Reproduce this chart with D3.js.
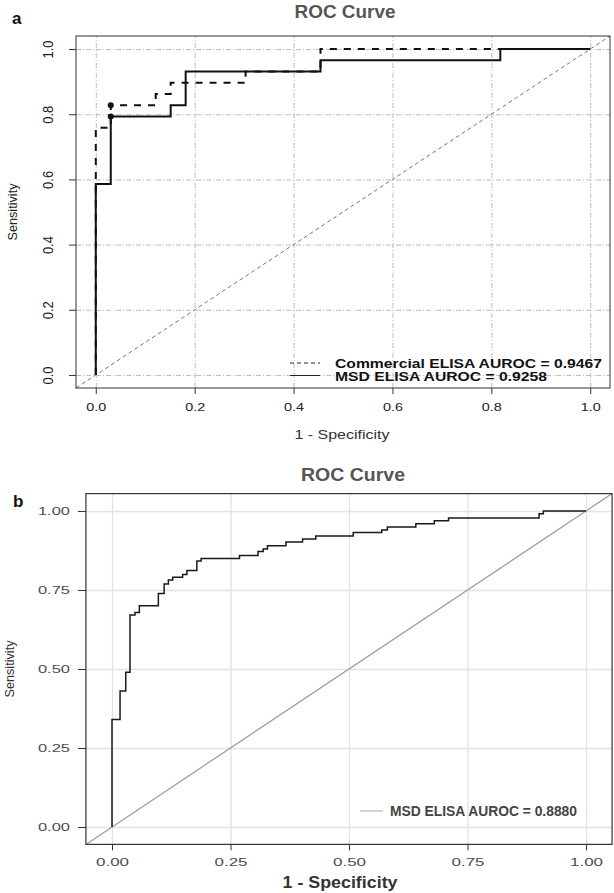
<!DOCTYPE html>
<html><head><meta charset="utf-8">
<script src="https://cdn.jsdelivr.net/npm/d3@7"></script>
<style>body{margin:0;background:#fff}svg{display:block}</style>
</head><body>
<script>
// ---------- Panel a data ----------
const ticksA = [0, 0.2, 0.4, 0.6, 0.8, 1.0];
const tickLabelsA = ["0.0", "0.2", "0.4", "0.6", "0.8", "1.0"];
const commercialFPR = [0, 0, 0.0303, 0.1212, 0.1515, 0.3030, 0.4545, 1.0];
const commercialTPR = [0, 0.7586, 0.8276, 0.8621, 0.8966, 0.9310, 1.0, 1.0];
const msdFPR_a = [0, 0, 0.0303, 0.1515, 0.1818, 0.4545, 0.8182, 1.0];
const msdTPR_a = [0, 0.5862, 0.7931, 0.8276, 0.9310, 0.9655, 1.0, 1.0];
const bestFPR_a = [0.0303, 0.0303];
const bestTPR_a = [0.8276, 0.7931];
const legendA = ["Commercial ELISA AUROC = 0.9467", "MSD ELISA AUROC = 0.9258"];

// ---------- Panel b data ----------
const ticksB = [0, 0.25, 0.5, 0.75, 1.0];
const tickLabelsB = ["0.00", "0.25", "0.50", "0.75", "1.00"];
const msdFPR_b = [0, 0, 0.017, 0.029, 0.038, 0.0485, 0.0577, 0.0978, 0.110, 0.119,
  0.128, 0.149, 0.158, 0.179, 0.188, 0.269, 0.308, 0.319, 0.328, 0.367,
  0.402, 0.430, 0.509, 0.569, 0.581, 0.641, 0.680, 0.710, 0.901, 0.910, 1.0];
const msdTPR_b = [0, 0.34, 0.43, 0.49, 0.671, 0.679, 0.700, 0.739, 0.769, 0.782,
  0.790, 0.799, 0.812, 0.842, 0.850, 0.859, 0.872, 0.880, 0.890, 0.902,
  0.911, 0.921, 0.932, 0.940, 0.949, 0.960, 0.969, 0.978, 0.991, 1.0, 1.0];
const legendB = "MSD ELISA AUROC = 0.8880";

const W = 614, H = 893;
const FONT = "'Liberation Sans', Arial, sans-serif";
const svg = d3.select("body").append("svg").attr("width", W).attr("height", H)
  .style("font-family", FONT);
svg.append("rect").attr("width", W).attr("height", H).attr("fill", "#fff");

function txt(x, y, s, o = {}) {
  const t = svg.append("text").attr("x", x).attr("y", y).text(s)
    .attr("font-size", o.size || 12)
    .attr("font-weight", o.weight || "normal")
    .attr("fill", o.fill || "#222")
    .attr("text-anchor", o.anchor || "start");
  if (o.len) t.attr("textLength", o.len).attr("lengthAdjust", "spacingAndGlyphs");
  if (o.rotate) t.attr("transform", `rotate(${o.rotate},${x},${y})`);
  return t;
}
const zip = (a, b) => a.map((v, i) => [v, b[i]]);

// ================= Panel a =================
const xA = d3.scaleLinear().domain([-0.04, 1.04]).range([76, 610]);
const yA = d3.scaleLinear().domain([-0.04, 1.04]).range([388, 36]);
const gA = svg.append("g");

// grid
gA.append("g").attr("transform", `translate(0,${yA(-0.04)})`)
  .call(d3.axisBottom(xA).tickValues(ticksA).tickSize(-(yA(-0.04) - yA(1.04))).tickFormat(""))
  .call(g => g.select(".domain").remove())
  .selectAll("line").attr("stroke", "#b5b5b5").attr("stroke-width", 0.9).attr("stroke-dasharray", "5,2,1,2");
gA.append("g").attr("transform", `translate(${xA(-0.04)},0)`)
  .call(d3.axisLeft(yA).tickValues(ticksA).tickSize(-(xA(1.04) - xA(-0.04))).tickFormat(""))
  .call(g => g.select(".domain").remove())
  .selectAll("line").attr("stroke", "#b5b5b5").attr("stroke-width", 0.9).attr("stroke-dasharray", "5,2,1,2");

// diagonal
gA.append("line").attr("x1", xA(-0.04)).attr("y1", yA(-0.04)).attr("x2", xA(1.04)).attr("y2", yA(1.04))
  .attr("stroke", "#666").attr("stroke-width", 0.9).attr("stroke-dasharray", "4,3");

// axes
const axA = gA.append("g").attr("transform", `translate(0,${yA(-0.04)})`)
  .call(d3.axisBottom(xA).tickValues(ticksA).tickSize(6).tickPadding(9).tickFormat((d, i) => tickLabelsA[i]));
axA.select(".domain").remove();
axA.selectAll("line").attr("stroke", "#333");
axA.selectAll("text").attr("font-size", 11.5).attr("fill", "#222").attr("font-family", FONT)
  .attr("textLength", 20).attr("lengthAdjust", "spacingAndGlyphs").attr("dy", "0.71em");
const ayA = gA.append("g").attr("transform", `translate(${xA(-0.04)},0)`)
  .call(d3.axisLeft(yA).tickValues(ticksA).tickSize(7).tickFormat((d, i) => tickLabelsA[i]));
ayA.select(".domain").remove();
ayA.selectAll("line").attr("stroke", "#333");
ayA.selectAll("text").attr("x", null).attr("dy", null)
  .attr("transform", "translate(-23,0) rotate(-90)").attr("text-anchor", "middle")
  .attr("font-size", 14.5).attr("fill", "#222").attr("font-family", FONT)
  .attr("textLength", 18).attr("lengthAdjust", "spacingAndGlyphs");

// frame
gA.append("rect").attr("x", xA(-0.04)).attr("y", yA(1.04))
  .attr("width", xA(1.04) - xA(-0.04)).attr("height", yA(-0.04) - yA(1.04))
  .attr("fill", "none").attr("stroke", "#333").attr("stroke-width", 1);

// curves
const lineA = d3.line().x(d => xA(d[0])).y(d => yA(d[1])).curve(d3.curveStepAfter);
gA.append("path").attr("d", lineA(zip(msdFPR_a, msdTPR_a)))
  .attr("fill", "none").attr("stroke", "#111").attr("stroke-width", 2);
gA.append("path").attr("d", lineA(zip(commercialFPR, commercialTPR)))
  .attr("fill", "none").attr("stroke", "#111").attr("stroke-width", 2).attr("stroke-dasharray", "7,7");
gA.selectAll("circle.best").data(zip(bestFPR_a, bestTPR_a)).enter().append("circle")
  .attr("cx", d => xA(d[0])).attr("cy", d => yA(d[1])).attr("r", 3).attr("fill", "#111");

// legend a
gA.append("line").attr("x1", 290).attr("x2", 320).attr("y1", 363).attr("y2", 363)
  .attr("stroke", "#222").attr("stroke-width", 1).attr("stroke-dasharray", "4,3");
gA.append("line").attr("x1", 290).attr("x2", 320).attr("y1", 375.5).attr("y2", 375.5)
  .attr("stroke", "#222").attr("stroke-width", 1);
txt(335, 367.5, legendA[0], { size: 12.5, weight: "bold", fill: "#111", len: 267 });
txt(335, 380.7, legendA[1], { size: 12.5, weight: "bold", fill: "#111", len: 212 });

// texts a
txt(12, 24, "a", { size: 17, weight: "bold", fill: "#111" });
txt(345, 18, "ROC Curve", { size: 19, weight: "bold", fill: "#555", anchor: "middle", len: 101 });
txt(342, 439, "1 - Specificity", { size: 13, fill: "#333", anchor: "middle", len: 95 });
txt(17, 212, "Sensitivity", { size: 12.5, fill: "#222", anchor: "middle", rotate: -90, len: 57 });

// ================= Panel b =================
const xB = d3.scaleLinear().domain([0, 1]).range([112, 586]);
const yB = d3.scaleLinear().domain([0, 1]).range([827, 511]);
const gB = svg.append("g");
const bx0 = xB(-0.055), bx1 = xB(1.055), by0 = yB(-0.055), by1 = yB(1.055);

gB.append("g").attr("transform", `translate(0,${by0})`)
  .call(d3.axisBottom(xB).tickValues(ticksB).tickSize(-(by0 - by1)).tickFormat(""))
  .call(g => g.select(".domain").remove())
  .selectAll("line").attr("stroke", "#e2e2e2").attr("stroke-width", 1.3);
gB.append("g").attr("transform", `translate(${bx0},0)`)
  .call(d3.axisLeft(yB).tickValues(ticksB).tickSize(-(bx1 - bx0)).tickFormat(""))
  .call(g => g.select(".domain").remove())
  .selectAll("line").attr("stroke", "#e2e2e2").attr("stroke-width", 1.3);

// diagonal b (clipped to panel)
gB.append("line").attr("x1", bx0).attr("y1", by0).attr("x2", bx1).attr("y2", by1)
  .attr("stroke", "#9a9a9a").attr("stroke-width", 1.2);

// curve b
const lineB = d3.line().x(d => xB(d[0])).y(d => yB(d[1])).curve(d3.curveStepAfter);
gB.append("path").attr("d", lineB(zip(msdFPR_b, msdTPR_b)))
  .attr("fill", "none").attr("stroke", "#1a1a1a").attr("stroke-width", 1.5);

// axes b
const axB = gB.append("g").attr("transform", `translate(0,${by0})`)
  .call(d3.axisBottom(xB).tickValues(ticksB).tickSize(6).tickPadding(8).tickFormat((d, i) => tickLabelsB[i]));
axB.select(".domain").remove();
axB.selectAll("line").attr("stroke", "#333");
axB.selectAll("text").attr("font-size", 11).attr("fill", "#4d4d4d").attr("font-family", FONT)
  .attr("textLength", 33).attr("lengthAdjust", "spacingAndGlyphs");
const ayB = gB.append("g").attr("transform", `translate(${bx0},0)`)
  .call(d3.axisLeft(yB).tickValues(ticksB).tickSize(8).tickPadding(8).tickFormat((d, i) => tickLabelsB[i]));
ayB.select(".domain").remove();
ayB.selectAll("line").attr("stroke", "#333");
ayB.selectAll("text").attr("font-size", 10.5).attr("fill", "#4d4d4d").attr("font-family", FONT)
  .attr("textLength", 32).attr("lengthAdjust", "spacingAndGlyphs");

// frame b
gB.append("rect").attr("x", bx0).attr("y", by1).attr("width", bx1 - bx0).attr("height", by0 - by1)
  .attr("fill", "none").attr("stroke", "#333").attr("stroke-width", 1.2);

// legend b
gB.append("line").attr("x1", 360).attr("x2", 383).attr("y1", 811).attr("y2", 811)
  .attr("stroke", "#aaa").attr("stroke-width", 1);
txt(390, 816, legendB, { size: 14, weight: "bold", fill: "#444", len: 187 });

// texts b
txt(13, 507, "b", { size: 17, weight: "bold", fill: "#111" });
txt(353, 481, "ROC Curve", { size: 19, weight: "bold", fill: "#555", anchor: "middle", len: 104 });
txt(340, 888, "1 - Specificity", { size: 16, weight: "bold", fill: "#333", anchor: "middle", len: 115 });
txt(14, 669, "Sensitivity", { size: 12.5, fill: "#333", anchor: "middle", rotate: -90, len: 57 });
</script>
</body></html>
